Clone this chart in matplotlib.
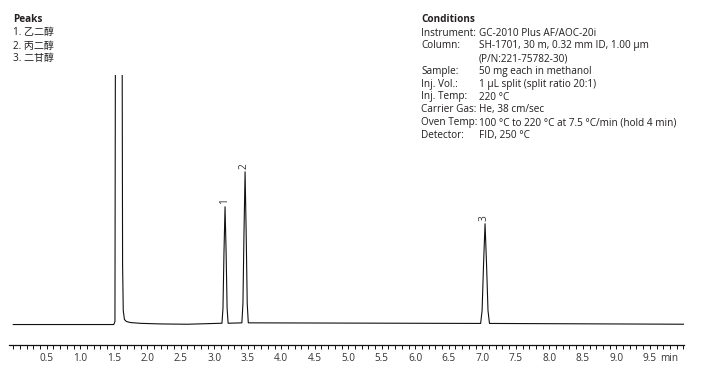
import matplotlib.pyplot as plt
import numpy as np

# chromatogram trace (time in min, signal in arbitrary units, baseline = 0)
trace_time = [0.00, 1.50, 1.518, 1.528, 1.622, 1.632, 1.642, 1.66, 1.69, 1.75, 1.90, 2.20, 2.60,
              3.115, 3.13, 3.145, 3.161, 3.177, 3.192, 3.207,
              3.412, 3.428, 3.444, 3.46, 3.476, 3.492, 3.508,
              6.975, 6.997, 7.019, 7.041, 7.063, 7.085, 7.107, 10.01]
trace_signal = [0.0, 0.0, 3.0, 400.0, 400.0, 60.0, 14.0, 5.0, 3.0, 2.0, 1.2, 0.6, 0.3,
                1.3, 16.0, 72.0, 118.0, 72.0, 16.0, 1.3,
                1.7, 21.0, 93.0, 153.0, 93.0, 21.0, 1.7,
                1.1, 14.0, 61.0, 101.0, 61.0, 14.0, 1.1, 0.3]

# labelled peaks
peak_rt = [3.161, 3.46, 7.041]
peak_height = [118.0, 153.0, 101.0]
peak_label = ['1', '2', '3']

peak_names = ['乙二醇', '丙二醇', '二甘醇']

cond_keys = ['Instrument:', 'Column:', '', 'Sample:', 'Inj. Vol.:', 'Inj. Temp:',
             'Carrier Gas:', 'Oven Temp:', 'Detector:']
cond_vals = ['GC-2010 Plus AF/AOC-20i',
             'SH-1701, 30 m, 0.32 mm ID, 1.00 µm',
             '(P/N:221-75782-30)',
             '50 mg each in methanol',
             '1 µL split (split ratio 20:1)',
             '220 °C',
             'He, 38 cm/sec',
             '100 °C to 220 °C at 7.5 °C/min (hold 4 min)',
             'FID, 250 °C']

fam = ['Open Sans', 'Noto Sans CJK SC', 'DejaVu Sans']
plt.rcParams['font.family'] = fam
txt_col = '#231f20'
W, H = 724, 377

fig = plt.figure(figsize=(7.24, 3.77), dpi=100)
ax = fig.add_axes([9 / W, 1 - 345 / H, (684 - 9) / W, (345 - 75) / H])
ax.plot(trace_time, trace_signal, color='#111111', lw=0.8, solid_joinstyle='round')
ax.set_xlim(-0.063, 10.01)
ax.set_ylim(-20.5, 250)

for s in ['top', 'right', 'left']:
    ax.spines[s].set_visible(False)
ax.spines['bottom'].set_linewidth(0.9)
ax.spines['bottom'].set_color('#111111')
ax.set_yticks([])

ticks = np.round(np.arange(0, 10.001, 0.1), 1)
ax.set_xticks(ticks)
labels = []
for t in ticks:
    if abs(t * 2 - round(t * 2)) < 1e-6 and 0 < t < 10:
        labels.append('%.1f' % t)
    else:
        labels.append('')
ax.set_xticklabels(labels)
ax.tick_params(axis='x', direction='out', length=3, width=0.7, color='#111111',
               labelsize=7.2, labelcolor='#333333', pad=2.5)
ax.annotate('min', (9.79, 0), xycoords=('data', 'axes fraction'), xytext=(0, -5.5),
            textcoords='offset points', ha='center', va='top', fontsize=7.2, color='#333333')

for rt, h, lab in zip(peak_rt, peak_height, peak_label):
    ax.annotate(lab, (rt, h), xytext=(-0.6, 2), textcoords='offset points', rotation=90,
                ha='center', va='bottom', fontsize=7.2, color='#333333')

# Peaks block
fig.text(13 / W, 1 - 20 / H, 'Peaks', fontsize=7.2, fontweight='bold', color=txt_col, va='center')
for i, name in enumerate(peak_names):
    fig.text(13 / W, 1 - (33 + 13 * i) / H, '%d. %s' % (i + 1, name), fontsize=7.2,
             color=txt_col, va='center')

# Conditions block
fig.text(421 / W, 1 - 20 / H, 'Conditions', fontsize=7.2, fontweight='bold', color=txt_col, va='center')
for i, (k, v) in enumerate(zip(cond_keys, cond_vals)):
    y = 1 - (33 + 12.8 * i) / H
    fig.text(421 / W, y, k, fontsize=7.2, color=txt_col, va='center')
    fig.text(479 / W, y, v, fontsize=7.2, color=txt_col, va='center')

fig.savefig('out.png', dpi=100)
